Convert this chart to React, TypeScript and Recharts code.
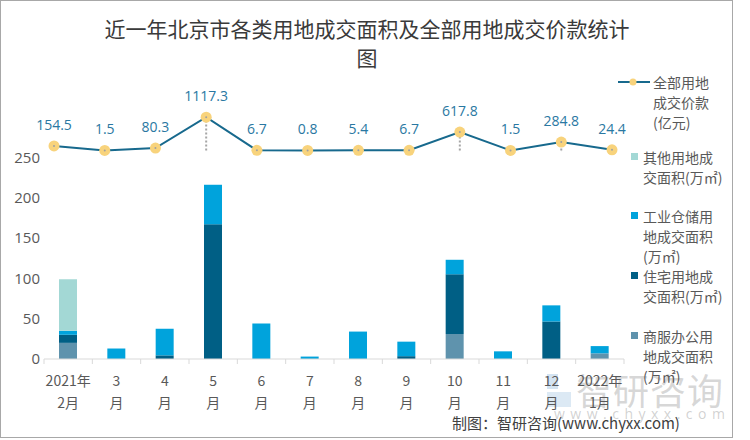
import React from 'react'
import { ComposedChart, Bar, Line, XAxis, YAxis, LabelList, ErrorBar } from 'recharts'

const months = ['2021年\n2月', '3\n月', '4\n月', '5\n月', '6\n月', '7\n月', '8\n月', '9\n月', '10\n月', '11\n月', '12\n月', '2022年\n1月']
const commercial = [20, 0, 0, 0, 0, 0, 0, 0, 31, 0, 0, 7]
const residential = [10, 0, 4.5, 167, 0, 0, 0, 3.5, 74, 0, 46.5, 0]
const industrial = [5, 13, 33, 49, 44, 3, 34, 18, 18, 9.5, 20, 9]
const other = [64, 0, 0, 0, 0, 0, 0, 0, 0, 0, 0, 0]
const price = [154.5, 1.5, 80.3, 1117.3, 6.7, 0.8, 5.4, 6.7, 617.8, 1.5, 284.8, 24.4]
const yTicks = [0, 50, 100, 150, 200, 250]

const C_OTHER = '#a3d8d5'
const C_IND = '#00a3dc'
const C_RES = '#005f85'
const C_COM = '#5f93ad'
const C_LINE = '#17698d'
const C_DOT = '#f8d37c'
const C_LABEL = '#2a78a2'
const CJK = "'Noto Sans CJK SC', sans-serif"

const data = months.map((m, i) => ({
  month: m,
  commercial: commercial[i],
  residential: residential[i],
  industrial: industrial[i],
  other: other[i],
  price: price[i],
  drop: [price[i], 0],
}))

const PLOT_W = 580
const step = PLOT_W / months.length

function MonthTick({ x, y, payload, index }: any) {
  const lines = String(payload.value).split('\n')
  return (
    <g>
      <line x1={x - step / 2} y1={y} x2={x - step / 2} y2={y + 5} stroke="#d9d9d9" />
      {index === months.length - 1 && (
        <line x1={x + step / 2} y1={y} x2={x + step / 2} y2={y + 5} stroke="#d9d9d9" />
      )}
      {lines.map((t, i) => (
        <text key={i} x={x} y={y + 27 + i * 22} textAnchor="middle" fontSize={14} fill="#595959" fontFamily={CJK}>
          {t}
        </text>
      ))}
    </g>
  )
}

function PriceDot({ cx, cy }: any) {
  if (cx == null || cy == null) return null
  return (
    <g>
      <circle cx={cx} cy={cy} r={5.5} fill={C_DOT} />
      <circle cx={cx} cy={cy} r={1} fill="#a0a0a0" />
    </g>
  )
}

function PriceLabel(props: any) {
  const vb = props.viewBox || {}
  const x = props.x ?? vb.x
  const y = props.y ?? vb.y
  return (
    <text x={x} y={y - 16} textAnchor="middle" fontSize={14} fill={C_LABEL} fontFamily="'Open Sans', sans-serif">
      {Number(props.value).toFixed(1)}
    </text>
  )
}

const legendItems = [
  { color: C_OTHER, lines: ['其他用地成', '交面积(万㎡)'], top: 147 },
  { color: C_IND, lines: ['工业仓储用', '地成交面积', '(万㎡)'], top: 206 },
  { color: C_RES, lines: ['住宅用地成', '交面积(万㎡)'], top: 266 },
  { color: C_COM, lines: ['商服办公用', '地成交面积', '(万㎡)'], top: 326 },
]

function SideLegend() {
  const txt: React.CSSProperties = { fontSize: 14, lineHeight: '20px', color: '#595959', fontFamily: CJK, whiteSpace: 'nowrap' }
  return (
    <>
      <svg style={{ position: 'absolute', left: 616, top: 76 }} width={36} height={12}>
        <line x1={2} y1={6} x2={34} y2={6} stroke={C_LINE} strokeWidth={2} />
        <circle cx={17} cy={6} r={3.5} fill={C_DOT} />
      </svg>
      <div style={{ position: 'absolute', left: 653, top: 72, ...txt }}>
        <div>全部用地</div>
        <div>成交价款</div>
        <div>(亿元)</div>
      </div>
      {legendItems.map((it, i) => (
        <React.Fragment key={i}>
          <div style={{ position: 'absolute', left: 631, top: it.top + 6, width: 7, height: 7, background: it.color }} />
          <div style={{ position: 'absolute', left: 643, top: it.top, ...txt }}>
            {it.lines.map((l, j) => (
              <div key={j}>{l}</div>
            ))}
          </div>
        </React.Fragment>
      ))}
    </>
  )
}

export default function App() {
  return (
    <div style={{ position: 'absolute', left: 0, top: 0, width: 750, height: 440, background: '#fff', overflow: 'hidden' }}>
      <div style={{ position: 'absolute', left: 0, top: 0, width: 733, height: 438, border: '1.5px solid #a8a8a8', boxSizing: 'border-box' }} />
      <div style={{ position: 'absolute', left: 0, width: 734, top: 14, textAlign: 'center', fontSize: 21, lineHeight: '29px', color: '#3a3a3a', fontFamily: CJK }}>
        <div>近一年北京市各类用地成交面积及全部用地成交价款统计</div>
        <div>图</div>
      </div>

      {/* watermark */}
      <div style={{ position: 'absolute', left: 547, top: 374, width: 11, height: 15, background: '#d3e3f1' }} />
      <div style={{ position: 'absolute', left: 547, top: 392, width: 24, height: 15, background: '#dce9f4' }} />
      <div style={{ position: 'absolute', left: 576, top: 365, fontSize: 36, letterSpacing: 1, lineHeight: '48px', color: 'rgba(140,140,140,0.35)', fontFamily: CJK, whiteSpace: 'nowrap' }}>
        智研咨询
      </div>
      <div style={{ position: 'absolute', left: 554, top: 404, fontSize: 14, letterSpacing: 5.5, color: 'rgba(140,140,140,0.4)', fontFamily: "'Open Sans', sans-serif", whiteSpace: 'nowrap' }}>
        www.chyxx.com
      </div>

      <div style={{ position: 'absolute', left: 0, top: 0 }}>
        <ComposedChart width={750} height={440} data={data} margin={{ top: 117, right: 126, bottom: 21, left: 0 }}>
          <XAxis
            dataKey="month"
            interval={0}
            height={60}
            tickSize={0}
            tickMargin={0}
            tickLine={false}
            axisLine={{ stroke: '#d9d9d9' }}
            tick={<MonthTick />}
          />
          <XAxis xAxisId="line" dataKey="month" hide scale="point" padding={{ left: 10, right: 12 }} />
          <YAxis
            width={44}
            domain={[0, 300]}
            ticks={yTicks}
            tickSize={0}
            tickMargin={4}
            tickLine={false}
            axisLine={false}
            tick={{ fontSize: 15, fill: '#595959', fontFamily: "'Open Sans', sans-serif" }}
          />
          <YAxis yAxisId="right" orientation="right" hide domain={[-7000, 1125]} />
          <Bar dataKey="commercial" stackId="a" fill={C_COM} barSize={18} isAnimationActive={false} />
          <Bar dataKey="residential" stackId="a" fill={C_RES} barSize={18} isAnimationActive={false} />
          <Bar dataKey="industrial" stackId="a" fill={C_IND} barSize={18} isAnimationActive={false} />
          <Bar dataKey="other" stackId="a" fill={C_OTHER} barSize={18} isAnimationActive={false} />
          <Line
            dataKey="price"
            xAxisId="line"
            yAxisId="right"
            stroke={C_LINE}
            strokeWidth={2}
            dot={<PriceDot />}
            activeDot={false}
            isAnimationActive={false}
          >
            <ErrorBar dataKey="drop" width={0} stroke="#a6a6a6" strokeWidth={2} strokeDasharray="2 2" isAnimationActive={false} />
            <LabelList dataKey="price" content={<PriceLabel />} />
          </Line>
        </ComposedChart>
      </div>

      <SideLegend />

      <div style={{ position: 'absolute', left: 452, top: 412, fontSize: 15, color: '#404040', fontFamily: CJK, whiteSpace: 'nowrap' }}>
        制图：智研咨询(www.chyxx.com)
      </div>
    </div>
  )
}
